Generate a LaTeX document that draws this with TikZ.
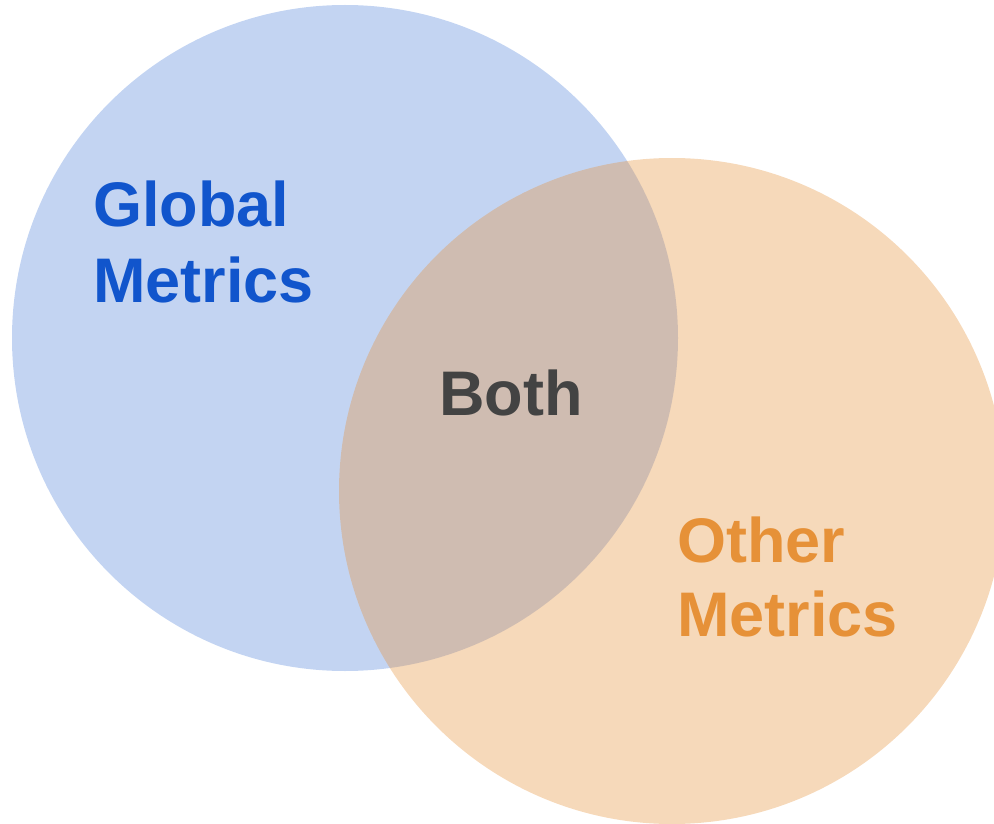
\documentclass[tikz,border=0pt]{standalone}
\usepackage{fontspec}
\setmainfont{Liberation Sans}
\usepackage{tikz}
\usetikzlibrary{positioning}
\usepackage{xcolor}

\definecolor{globalblue}{HTML}{1155CC}
\definecolor{otherorange}{HTML}{E69138}
\definecolor{bothgray}{HTML}{434343}

\begin{document}
\begin{tikzpicture}[x=1pt,y=-1pt]
  \tikzstyle{every node}=[inner sep=0pt,anchor=base west,font=\fontsize{63}{76}\selectfont\bfseries]
  \tikzstyle{set}=[draw=none]

  \useasboundingbox (0,0) rectangle (994,824);

  \fill[set,globalblue,fill opacity=0.25]  (345,338) circle (333);
  \fill[set,otherorange,fill opacity=0.35] (672,491) circle (333);

  \node[text=globalblue]  (global_1) at (93,226)   {Global};
  \node[text=globalblue]  (global_2) [below=76pt of global_1.base west,anchor=base west] {Metrics};
  \node[text=bothgray]    (both)     at (439,415)  {Both};
  \node[text=otherorange] (other_1)  at (677,562)  {Other};
  \node[text=otherorange] (other_2)  [below=74pt of other_1.base west,anchor=base west] {Metrics};
\end{tikzpicture}
\end{document}
